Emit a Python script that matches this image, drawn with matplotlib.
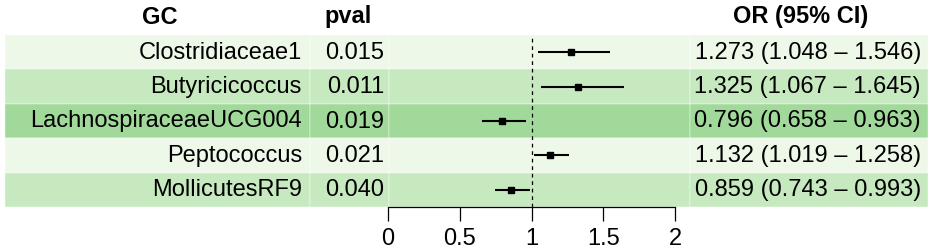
import matplotlib
matplotlib.use('Agg')
import matplotlib.pyplot as plt
from matplotlib.patches import Rectangle

plt.rcParams['font.family'] = ['Liberation Sans', 'DejaVu Sans']

# data
genus = ['Clostridiaceae1', 'Butyricicoccus', 'LachnospiraceaeUCG004',
         'Peptococcus', 'MollicutesRF9']
pval = [0.015, 0.011, 0.019, 0.021, 0.040]
or_val = [1.273, 1.325, 0.796, 1.132, 0.859]
ci_lo = [1.048, 1.067, 0.658, 1.019, 0.743]
ci_hi = [1.546, 1.645, 0.963, 1.258, 0.993]
xticks = [0, 0.5, 1, 1.5, 2]

row_fill = ['#edf8e9', '#c7e9c0', '#a1d99b']
fs = 17

W, H = 935, 250
fig = plt.figure(figsize=(W / 100, H / 100), dpi=100)

# table layer in pixel coordinates
tab = fig.add_axes([0, 0, 1, 1])
tab.set_xlim(0, W)
tab.set_ylim(H, 0)
tab.axis('off')

top, rh = 35, 34.4
cols = [(5, 310), (310, 389), (389, 690), (690, 928)]

tab.text(160, 17, 'GC', ha='center', va='center', fontsize=fs, weight='bold')
tab.text(348, 17, 'pval', ha='center', va='center', fontsize=fs, weight='bold')
tab.text(801, 17, 'OR (95% CI)', ha='center', va='center', fontsize=fs, weight='bold')

for i in range(len(genus)):
    y0 = top + i * rh
    yc = y0 + rh / 2 + 0.5
    for x0, x1 in cols:
        tab.add_patch(Rectangle((x0, y0), x1 - x0, rh, facecolor=row_fill[i % 3],
                                edgecolor='white', linewidth=0.3, zorder=0))
    tab.text(302, yc, genus[i], ha='right', va='center', fontsize=fs)
    tab.text(384, yc, f'{pval[i]:.3f}', ha='right', va='center', fontsize=fs)
    tab.text(921, yc, f'{or_val[i]:.3f} ({ci_lo[i]:.3f} \u2013 {ci_hi[i]:.3f})',
             ha='right', va='center', fontsize=fs)

# forest panel
n = len(genus)
ax = fig.add_axes([388 / W, (H - top - n * rh) / H, 287 / W, n * rh / H])
ax.patch.set_alpha(0)
ax.set_xlim(0, 2)
ax.set_ylim(n, 0)
ypos = [i + 0.5 for i in range(n)]
ax.axvline(1, color='black', linestyle=(0, (3, 3)), linewidth=0.9)
ax.hlines(ypos, ci_lo, ci_hi, color='black', linewidth=1.5)
ax.plot(or_val, ypos, 's', color='black', markersize=4.5)

for s in ['top', 'right', 'left']:
    ax.spines[s].set_visible(False)
ax.spines['bottom'].set_linewidth(0.9)
ax.set_yticks([])
ax.set_xticks(xticks)
ax.set_xticklabels(['0', '0.5', '1', '1.5', '2'])
ax.tick_params(axis='x', direction='out', length=10, width=0.9, labelsize=fs, pad=5)

fig.savefig('out.png', dpi=100)
